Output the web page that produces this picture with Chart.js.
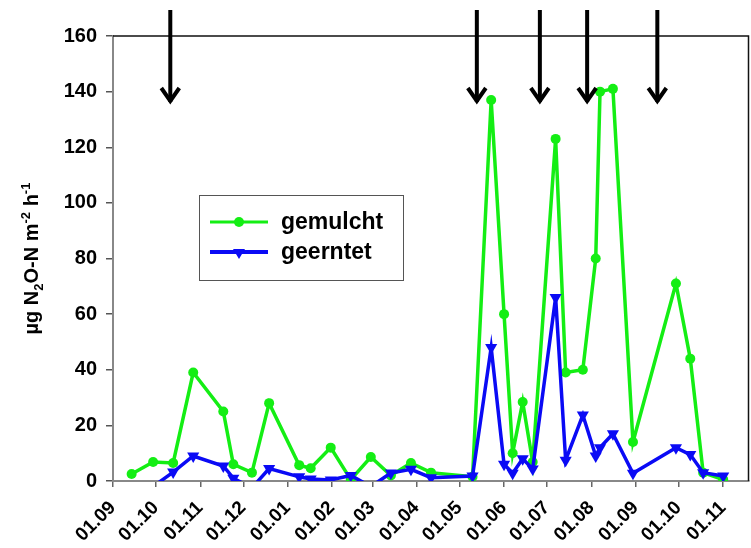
<!DOCTYPE html>
<html>
<head>
<meta charset="utf-8">
<script src="https://cdn.jsdelivr.net/npm/chart.js@4/dist/chart.umd.min.js"></script>
<style>
  html, body { margin: 0; padding: 0; background: #ffffff; }
  #wrap { position: relative; width: 751px; height: 548px; }
</style>
</head>
<body>
<div id="wrap"><canvas id="fluxChart" width="751" height="548"></canvas></div>
<script>
// Sampling dates and N2O fluxes (µg N2O-N m-2 h-1)
const sampleDates = [
    '2006-09-14', '2006-09-29', '2006-10-13', '2006-10-27', '2006-11-17', '2006-11-24',
    '2006-12-07', '2006-12-19', '2007-01-09', '2007-01-17', '2007-01-31', '2007-02-14',
    '2007-02-28', '2007-03-14', '2007-03-28', '2007-04-11', '2007-05-10', '2007-05-23',
    '2007-06-01', '2007-06-07', '2007-06-14', '2007-06-21', '2007-07-07', '2007-07-14',
    '2007-07-26', '2007-08-04', '2007-08-07', '2007-08-16', '2007-08-30', '2007-09-29',
    '2007-10-09', '2007-10-18', '2007-11-01'
];
const gemulcht = [
    2.5, 6.8, 6.5, 39, 25, 6,
    3, 28, 5.7, 4.6, 12, 0.5,
    8.6, 2, 6.5, 3, 1.5, 137,
    60, 10, 28.4, 6.8, 123, 39,
    40, 80, 140, 141, 14, 71,
    44, 3, 0.5
];
const geerntet = [
    null, -2, 3.2, 9, 5.4, 1,
    -2.5, 4.5, 1.5, 0.7, 0.4, 2,
    -2, 2.9, 4.2, 1.2, 1.8, 48,
    6, 2.8, 8, 4.3, 66, 7.5,
    23.7, 9, 12, 17, 2.8, 12,
    9.5, 3, 1.8
];
const seriesLabels = ['gemulcht', 'geerntet'];

// Month ticks on the date axis
const tickDates = [
    '2006-09-01', '2006-10-01', '2006-11-01', '2006-12-01', '2007-01-01', '2007-02-01',
    '2007-03-01', '2007-04-01', '2007-05-01', '2007-06-01', '2007-07-01', '2007-08-01',
    '2007-09-01', '2007-10-01', '2007-11-01'
];
const tickLabels = [
    '01.09', '01.10', '01.11', '01.12', '01.01', '01.02', '01.03', '01.04',
    '01.05', '01.06', '01.07', '01.08', '01.09', '01.10', '01.11'
];
const axisStart = '2006-09-01';
const axisEnd = '2007-11-19';

// Management events marked with arrows
const arrowDates = ['2006-10-11', '2007-05-13', '2007-06-26', '2007-07-29', '2007-09-16'];

const GREEN = '#14ee14';
const BLUE = '#0a0af5';
const FONT = "'Liberation Sans', Arial, sans-serif";

function dayOf(s) {
    return (Date.parse(s) - Date.parse(axisStart)) / 864e5;
}

const tickDays = tickDates.map(dayOf);
const greenPts = sampleDates.map((d, i) => ({ x: dayOf(d), y: gemulcht[i] }));
const bluePts = sampleDates.map((d, i) => ({ x: dayOf(d), y: geerntet[i] }));

// frame, slanted date labels, arrows, legend and rotated unit label
const decorations = {
    id: 'decorations',
    afterDraw(chart) {
        const ctx = chart.ctx;
        const a = chart.chartArea;
        const xs = chart.scales.x;
        ctx.save();

        // top and right frame
        ctx.strokeStyle = '#111';
        ctx.lineWidth = 1.5;
        ctx.beginPath();
        ctx.moveTo(a.left, a.top);
        ctx.lineTo(a.right - 0.5, a.top);
        ctx.lineTo(a.right - 0.5, a.bottom);
        ctx.stroke();

        // date labels, slanted 45 degrees below each month tick
        ctx.fillStyle = '#000';
        ctx.font = 'bold 19px ' + FONT;
        ctx.textAlign = 'right';
        ctx.textBaseline = 'top';
        tickDays.forEach((v, i) => {
            const x = xs.getPixelForValue(v);
            ctx.save();
            ctx.translate(x - 7, a.bottom + 17);
            ctx.rotate(-Math.PI / 4);
            ctx.fillText(tickLabels[i], 0, 0);
            ctx.restore();
        });

        // arrows
        ctx.strokeStyle = '#000';
        ctx.lineWidth = 4;
        ctx.lineCap = 'butt';
        arrowDates.forEach(d => {
            const x = xs.getPixelForValue(dayOf(d));
            ctx.beginPath();
            ctx.moveTo(x, 10);
            ctx.lineTo(x, 102);
            ctx.stroke();
            ctx.beginPath();
            ctx.moveTo(x - 9, 88);
            ctx.lineTo(x, 101);
            ctx.lineTo(x + 9, 88);
            ctx.stroke();
        });

        // legend
        const lx = 199, ly = 195, lw = 204, lh = 85;
        ctx.fillStyle = '#fff';
        ctx.fillRect(lx, ly, lw, lh);
        ctx.strokeStyle = '#555';
        ctx.lineWidth = 1;
        ctx.strokeRect(lx + 0.5, ly + 0.5, lw, lh);
        chart.data.datasets.forEach((ds, i) => {
            const y = 222 + i * 30;
            ctx.strokeStyle = ds.borderColor;
            ctx.lineWidth = i === 0 ? 3 : 4;
            ctx.beginPath();
            ctx.moveTo(210, y);
            ctx.lineTo(268, y);
            ctx.stroke();
            ctx.fillStyle = ds.borderColor;
            ctx.beginPath();
            if (i === 0) {
                ctx.arc(239, y, 5, 0, Math.PI * 2);
            } else {
                ctx.moveTo(233, y - 3);
                ctx.lineTo(245, y - 3);
                ctx.lineTo(239, y + 7);
                ctx.closePath();
            }
            ctx.fill();
            ctx.fillStyle = '#000';
            ctx.font = 'bold 23px ' + FONT;
            ctx.textBaseline = 'middle';
            ctx.textAlign = 'left';
            ctx.fillText(ds.label, 281, y + 1);
        });

        // y axis title with sub/superscripts
        const parts = [
            ['µg N', 0], ['2', 1], ['O-N m', 0], ['-2', -1], [' h', 0], ['-1', -1]
        ];
        const big = 'bold 20px ' + FONT;
        const small = 'bold 13px ' + FONT;
        let total = 0;
        parts.forEach(p => {
            ctx.font = p[1] ? small : big;
            total += ctx.measureText(p[0]).width;
        });
        ctx.translate(38, (a.top + a.bottom) / 2);
        ctx.rotate(-Math.PI / 2);
        ctx.fillStyle = '#000';
        ctx.textAlign = 'left';
        ctx.textBaseline = 'alphabetic';
        let cx = -total / 2;
        parts.forEach(p => {
            ctx.font = p[1] ? small : big;
            const dy = p[1] === 1 ? 5 : (p[1] === -1 ? -8 : 0);
            ctx.fillText(p[0], cx, dy);
            cx += ctx.measureText(p[0]).width;
        });
        ctx.restore();
    }
};

const ctx = document.getElementById('fluxChart').getContext('2d');
new Chart(ctx, {
    type: 'line',
    data: {
        datasets: [{
            label: seriesLabels[0],
            data: greenPts,
            borderColor: GREEN,
            backgroundColor: GREEN,
            borderWidth: 3.5,
            pointStyle: 'circle',
            pointRadius: 5,
            pointBorderWidth: 0,
            order: 2,
            clip: 0
        }, {
            label: seriesLabels[1],
            data: bluePts,
            borderColor: BLUE,
            backgroundColor: BLUE,
            borderWidth: 3.5,
            pointStyle: 'triangle',
            rotation: 180,
            pointRadius: 7,
            pointBorderWidth: 0,
            order: 1,
            clip: 0
        }]
    },
    options: {
        responsive: false,
        animation: false,
        layout: { autoPadding: false, padding: { top: 36, right: 2, left: 0, bottom: 0 } },
        plugins: {
            legend: { display: false },
            tooltip: { enabled: false }
        },
        scales: {
            x: {
                type: 'linear',
                min: dayOf(axisStart),
                max: dayOf(axisEnd),
                afterFit: s => { s.height = 67; s.paddingLeft = 0; s.paddingRight = 0; },
                afterBuildTicks: s => { s.ticks = tickDays.map(v => ({ value: v })); },
                grid: { drawOnChartArea: false, drawTicks: true, tickLength: 6, color: '#666', lineWidth: 1.5 },
                border: { display: true, color: '#888', width: 2 },
                ticks: { display: false, autoSkip: false }
            },
            y: {
                min: 0,
                max: 160,
                afterFit: s => { s.width = 113; },
                grid: { drawOnChartArea: false, drawTicks: true, tickLength: 7, color: '#555', lineWidth: 1.5 },
                border: { display: true, color: '#888', width: 2 },
                ticks: {
                    stepSize: 20,
                    padding: 9,
                    color: '#000',
                    font: { family: FONT, size: 20, weight: 'bold' }
                }
            }
        }
    },
    plugins: [decorations]
});
</script>
</body>
</html>
